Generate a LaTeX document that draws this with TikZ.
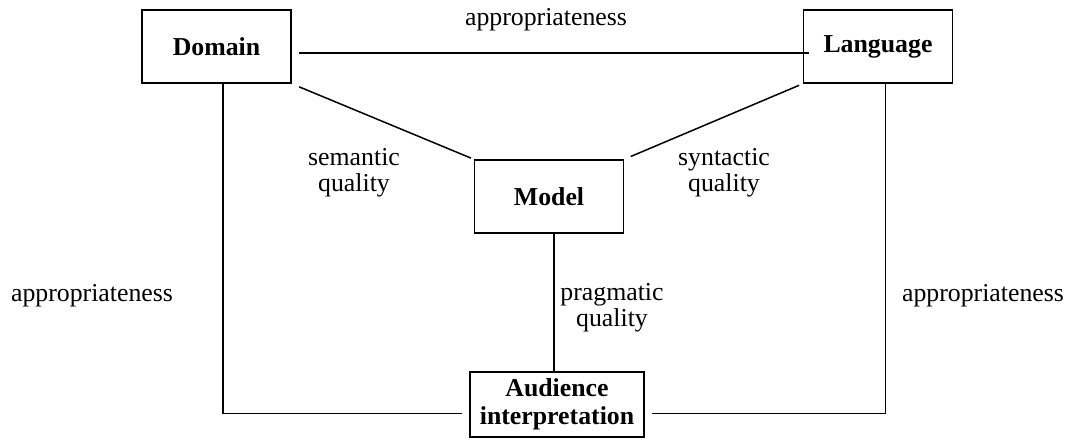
\documentclass[tikz,border=0pt]{standalone}
\usepackage{fontspec}
\setmainfont{Liberation Serif}
\usepackage{tikz}

\tikzset{
    qbox/.style={draw, line width=0.75pt, minimum width=74.5pt, minimum height=36.5pt,
        inner sep=0pt, font=\fontsize{12.9pt}{14pt}\selectfont\bfseries, align=center},
    qlabel/.style={inner sep=0pt, font=\fontsize{12.9pt}{12.8pt}\selectfont, align=center},
    qline/.style={line width=0.75pt}
}

\begin{document}
\begin{tikzpicture}[x=0.5pt, y=-0.5pt]
        \useasboundingbox (0,0) rectangle (1068,439);

        \node[qbox] (dom) at (216.5,46.5) {Domain};
        \node[qbox] (lang) at (878,46.5) {Language};
        \node[qbox] (mod) at (549,196.5) {Model};
        \node[qbox, minimum width=87pt, minimum height=32.5pt] (aud) at (557,404.5) {Audience\\interpretation};

        \node[qlabel] (apptop) at (546,20) {appropriateness};
        \node[qlabel] (sem) at (354,173) {semantic\\quality};
        \node[qlabel] (syn) at (724,173) {syntactic\\quality};
        \node[qlabel] (prag) at (612,308) {pragmatic\\quality};
        \node[qlabel] (appleft) at (92,296) {appropriateness};
        \node[qlabel] (appright) at (983,296) {appropriateness};

        \draw[qline, shorten <=3.5pt, shorten >=-3pt] ([yshift=-3.25pt]dom.east) -- ([yshift=-3.25pt]lang.west);
        \draw[qline, shorten <=4pt, shorten >=1.5pt] (dom.south east) -- (mod.north west);
        \draw[qline, shorten <=2pt, shorten >=3.5pt] (lang.south west) -- (mod.north east);
        \draw[qline] ([xshift=2.5pt]mod.south) -- ([xshift=2.5pt]mod.south |- aud.north);
        \draw[qline, shorten >=3.5pt] ([xshift=3.25pt]dom.south) |- ([yshift=-4.5pt]aud.west);
        \draw[qline, shorten >=3.5pt] ([xshift=3.75pt]lang.south) |- ([yshift=-4.5pt]aud.east);
    \end{tikzpicture}
\end{document}
